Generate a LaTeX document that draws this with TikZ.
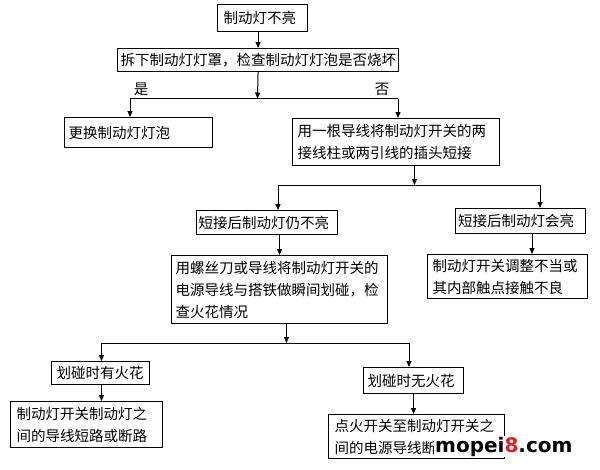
\documentclass[tikz,border=0pt]{standalone}
\usepackage{fontspec}
\usetikzlibrary{arrows.meta}
\newfontfamily\cjk{Noto Sans CJK SC}
\newfontfamily\wmfont{DejaVu Sans}
\definecolor{wmred}{RGB}{224,32,26}
\begin{document}
\begin{tikzpicture}[x=1pt,y=-1pt,
  box/.style={draw, line width=1.1pt, anchor=north west, inner ysep=0pt, align=left,
    font=\cjk\fontsize{14.5}{22}\selectfont},
  lbl/.style={font=\cjk\fontsize{14.5}{22}\selectfont, inner sep=0pt},
  arr/.style={line width=1pt, -{Triangle[length=6pt,width=5pt]}},
  ln/.style={line width=1pt}]
\useasboundingbox (0,0) rectangle (600,469);
% boxes
\node[box, inner xsep=6pt, text width=78pt, minimum height=27pt] (b1) at (217,4) {制动灯不亮};
\node[box, inner xsep=3pt, text width=275pt, minimum height=23pt] (b2) at (117,48) {拆下制动灯灯罩，检查制动灯灯泡是否烧坏};
\node[box, inner xsep=4pt, text width=140pt, minimum height=30pt] (b3) at (64,117) {更换制动灯灯泡};
\node[box, inner xsep=5pt, text width=197pt, minimum height=47pt] (b4) at (292,118) {用一根导线将制动灯开关的两\\接线柱或两引线的插头短接};
\node[box, inner xsep=2pt, text width=137pt, minimum height=24pt] (b5) at (196,210) {短接后制动灯仍不亮};
\node[box, inner xsep=2.5pt, text width=125pt, minimum height=25pt] (b6) at (455,208) {短接后制动灯会亮};
\node[box, inner xsep=4pt, text width=208pt, minimum height=68pt] (b7) at (171,255) {用螺丝刀或导线将制动灯开关的\\电源导线与搭铁做瞬间划碰，检\\查火花情况};
\node[box, inner xsep=5pt, text width=149.5pt, minimum height=44pt] (b8) at (427,254) {制动灯开关调整不当或\\其内部触点接触不良};
\node[box, inner xsep=5pt, text width=88pt, minimum height=23pt] (b9) at (51,361) {划碰时有火花};
\node[box, inner xsep=4pt, text width=92pt, minimum height=26pt] (b10) at (363,367) {划碰时无火花};
\node[box, inner xsep=6pt, text width=140pt, minimum height=46pt] (b11) at (10,401) {制动灯开关制动灯之\\间的导线短路或断路};
\node[box, inner xsep=6pt, text width=164pt, minimum height=44pt] (b12) at (328,414) {点火开关至制动灯开关之\\间的电源导线断路};
% labels
\node[lbl] (yes) at (141,89) {是};
\node[lbl] (no) at (382,89) {否};
% junction coordinates
\coordinate (j1) at (257.5,98.5);
\coordinate (j1L) at (130,98.5);
\coordinate (j1R) at (398,98.5);
\coordinate (j2) at (414.5,185);
\coordinate (j2L) at (278,185);
\coordinate (j2R) at (540,185);
\coordinate (x3) at (532,244);
\coordinate (j4) at (286.5,343);
\coordinate (j4L) at (101.5,343);
\coordinate (j4R) at (409,343);
% connectors
\draw[arr] (b1.south -| b2.north) -- (b2.north);
\draw[arr] (b2.south) -- (j1);
\draw[ln] (j1L) -- (j1R);
\draw[arr] (j1L) -- (j1L |- b3.north);
\draw[arr] (j1R) -- (j1R |- b4.north);
\draw[arr] (j2 |- b4.south) -- (j2);
\draw[ln] (j2L) -- (j2R);
\draw[arr] (j2L) -- (j2L |- b5.north);
\draw[arr] (j2R) -- (j2R |- b6.north);
\draw[arr] (b5.south -| b7.north) -- (b7.north);
\draw[arr] (b6.south -| x3) -- (b8.north -| x3);
\draw[arr] (j4 |- b7.south) -- (j4);
\draw[ln] (j4L) -- (j4R);
\draw[arr] (j4L) -- (j4L |- b9.north);
\draw[arr] (j4R) -- (j4R |- b10.north);
\draw[arr] (b9.south -| j4L) -- (b11.north -| j4L);
\draw[arr] (b10.south) -- (b10.south |- b12.north);
% watermark
\node[anchor=base west, fill=white, inner sep=1pt, font=\wmfont\bfseries\fontsize{20}{24}\selectfont] (wm) at (434,452) {mopei{\color{wmred}8}.com};
\end{tikzpicture}
\end{document}
